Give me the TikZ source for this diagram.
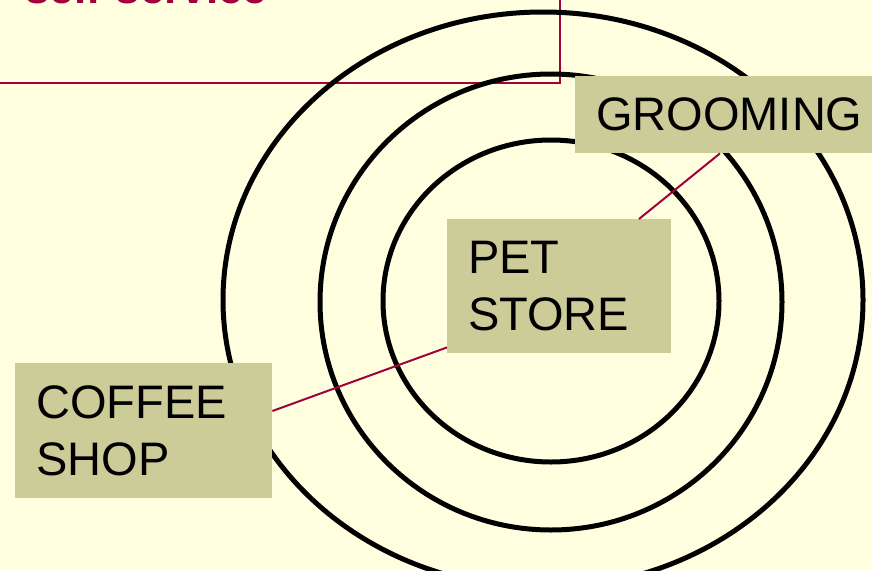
\documentclass[tikz,border=0pt]{standalone}
\usepackage{fontspec}
\setmainfont{Liberation Sans}
\usetikzlibrary{calc}
\definecolor{paper}{RGB}{255,255,224}
\definecolor{tagfill}{RGB}{204,204,153}
\definecolor{crimson}{RGB}{160,0,60}

\begin{document}
\begin{tikzpicture}[x=1pt,y=-1pt,
  ring/.style={draw=black,line width=5pt},
  tag/.style={rectangle, fill=tagfill, inner xsep=21pt, inner ysep=0pt,
    align=left, anchor=north west, font=\fontsize{47}{57}\selectfont},
  leader/.style={draw=crimson,line width=2pt}]
\useasboundingbox (0,0) rectangle (872,570);
\clip (0,0) rectangle (872,570);
\fill[paper] (0,0) rectangle (872,570);

% callout frame and its heading, running off the top edge
\draw[crimson, line width=2pt] (-10,83) -- (560,83) -- (560,-10);
\node[anchor=base west, text=crimson, inner sep=0pt,
  font=\bfseries\fontsize{44}{54}\selectfont] (title) at (25,4) {self-service};

% concentric rings
\draw[ring] (543,300) ellipse [x radius=320, y radius=288];
\draw[ring] (551,302) ellipse [x radius=231, y radius=228];
\draw[ring] (551,301) ellipse [x radius=168, y radius=161];

% labels
\node[tag, minimum height=77pt] (groom) at (575,76) {GROOMING};
\node[tag, text width=182pt, minimum height=134pt] (pet) at (447,219) {PET\\STORE};
\node[tag, text width=215pt, minimum height=135pt] (coffee) at (15,363) {COFFEE\\SHOP};

% leader lines
\draw[leader] ($(groom.south west)+(145,0)$) -- ($(pet.north west)+(192,0)$);
\draw[leader] ($(coffee.north east)+(0,48)$) -- ($(pet.south west)+(0,-6)$);
\end{tikzpicture}
\end{document}
